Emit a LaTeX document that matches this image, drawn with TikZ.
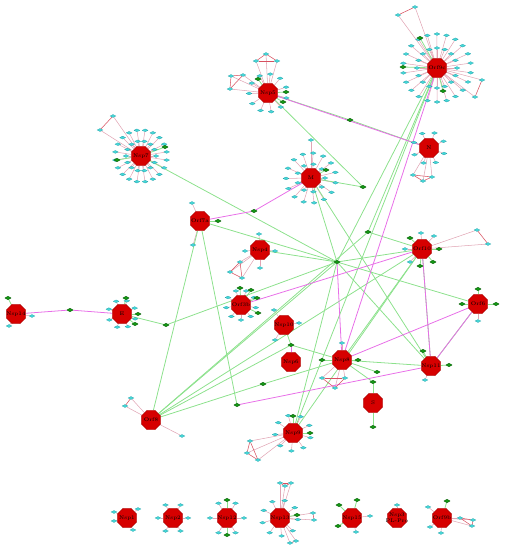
\documentclass[tikz,border=0pt]{standalone}
\usetikzlibrary{shapes.geometric, backgrounds, calc}

\definecolor{hubred}{RGB}{214,0,0}
\definecolor{hubline}{RGB}{160,0,0}
\definecolor{satcyan}{RGB}{70,215,215}
\definecolor{satline}{RGB}{20,150,160}
\definecolor{drugreen}{RGB}{20,150,20}
\definecolor{spokepink}{RGB}{225,165,180}
\definecolor{linkgreen}{RGB}{140,225,140}
\definecolor{linkpink}{RGB}{232,110,232}
\definecolor{trired}{RGB}{215,80,95}

\tikzset{
  hub/.style={regular polygon, regular polygon sides=8, fill=hubred, draw=hubline,
    line width=0.2pt, minimum size=0.42cm, inner sep=0pt},
  hublabel/.style={font=\fontsize{3}{3.4}\selectfont, align=center, inner sep=0pt},
  sat/.style={diamond, aspect=2, fill=satcyan, draw=satline, line width=0.1pt,
    minimum width=0.12cm, minimum height=0.06cm, inner sep=0pt},
  drug/.style={diamond, aspect=2, fill=drugreen, draw=green!30!black, line width=0.1pt,
    minimum width=0.13cm, minimum height=0.075cm, inner sep=0pt},
  spoke/.style={spokepink, line width=0.3pt},
  glink/.style={linkgreen, line width=0.45pt},
  mlink/.style={linkpink, line width=0.45pt},
  rlink/.style={trired, line width=0.3pt},
}

\begin{document}
\begin{tikzpicture}[x=0.02cm, y=-0.02cm, line cap=round, line join=round]
    \useasboundingbox (0,0) rectangle (504,550);

    % --- 1. hubs (proteins) ---
    \foreach \h/\x/\y/\lab in {
        orf9c/437/68/Orf9c, nsp5/268/93/Nsp5, nsp7/141/156/Nsp7, mprot/311/178/M,
        nprot/429/148/N, orf7a/200/221/Orf7a, nsp4/260/250/Nsp4, orf10/422/249/Orf10,
        orf3b/241/305/Orf3b, nsp10/284/325/Nsp10, nsp6/291/362/Nsp6, nsp8/342/360/Nsp8,
        nsp11/431/366/Nsp11, sprot/373/403/S, orf6/478/304/Orf6, nsp14/16/314/Nsp14,
        eprot/122/314/E, orf8/151/420/Orf8, nsp9/293/433/Nsp9,
        nsp1/127/518/Nsp1, nsp2/173/518/Nsp2, nsp12/227/518/Nsp12, nsp13/280/518/Nsp13,
        nsp15/352/518/Nsp15, nsp3/397/518/{Nsp3\\PL-Pro}, orf9b/442/518/Orf9b}
        \node[hub, label={[hublabel]center:\lab}] (\h) at (\x,\y) {};

    % --- 2. satellite rings (host proteins) ---
    \foreach \h/\n/\r/\a in {
        orf9c/16/20/0, orf9c/22/34/8, nsp5/11/19/15, nsp7/14/15/0, nsp7/20/26/9,
        mprot/9/14/0, mprot/15/25/11, nprot/8/16/20, orf3b/9/15/10, eprot/8/14/20,
        nsp9/9/18/15, nsp2/6/15/0, nsp12/6/17/0, nsp13/9/18/5} {
        \foreach \k in {1,...,\n} {
            \node[sat] (\h-\r-\k) at ($(\h)+(\a+\k*360/\n:\r)$) {};
            \begin{pgfonlayer}{background}
                \draw[spoke] (\h) -- (\h-\r-\k);
            \end{pgfonlayer}
        }
    }

    % single satellites
    \foreach \s/\x/\y/\h in {
        s1/398/15/orf9c, s2/415/7/orf9c, s3/482/80/orf9c, s4/475/97/orf9c,
        s5/266/54/nsp5, s6/256/61/nsp5, s7/277/61/nsp5, s8/231/76/nsp5, s9/243/75/nsp5, s10/230/89/nsp5,
        s11/113/116/nsp7, s12/100/130/nsp7, s13/311/140/mprot,
        s14/413/175/nprot, s15/423/181/nprot, s16/432/177/nprot,
        s17/192/203/orf7a, s18/193/245/orf7a,
        s19/259/234/nsp4, s20/245/251/nsp4, s21/275/251/nsp4, s22/260/268/nsp4,
        s23/240/262/nsp4, s24/230/272/nsp4, s25/242/278/nsp4,
        s26/421/233/orf10, s27/434/236/orf10, s28/405/249/orf10, s29/410/262/orf10,
        s30/477/230/orf10, s31/488/244/orf10,
        s32/274/310/nsp10, s33/299/323/nsp10, s34/275/340/nsp10,
        s35/342/343/nsp8, s36/322/378/nsp8, s37/335/388/nsp8, s38/345/378/nsp8,
        s39/425/380/nsp11, s40/478/321/orf6, s41/32/316/nsp14, s42/9/326/nsp14,
        s43/131/398/orf8, s44/125/406/orf8, s45/182/436/orf8,
        s46/250/441/nsp9, s47/247/453/nsp9, s48/258/460/nsp9,
        b1/114/512/nsp1, b2/114/521/nsp1, b3/138/509/nsp1, b4/133/530/nsp1,
        t1/280/483/nsp13, t2/285/486/nsp13, t3/291/483/nsp13, t4/313/513/nsp13,
        t5/314/520/nsp13, t6/290/543/nsp13, t7/296/541/nsp13,
        u1/370/516/nsp15, u2/356/532/nsp15, v1/397/505/nsp3,
        w1/428/507/orf9b, w2/430/527/orf9b, w3/441/533/orf9b,
        w4/460/518/orf9b, w5/473/520/orf9b, w6/472/526/orf9b} {
        \node[sat] (\s) at (\x,\y) {};
        \begin{pgfonlayer}{background}
            \draw[spoke] (\h) -- (\s);
        \end{pgfonlayer}
    }

    % --- 3. drugs (green) ---
    \foreach \d/\x/\y in {
        d1/420/38, d2/403/67, d3/443/91, d4/258/79, d5/286/92, d6/283/102,
        d7/165/147, d8/117/160, d9/326/170, d10/218/221, d11/254/211, d12/350/120,
        d14/337/262, d15/363/187, d16/410/238, d17/439/249, d18/420/266, d19/433/262,
        d20/368/232, d21/240/288, d22/251/290, d23/257/298, d24/258/313, d25/291/345,
        d26/322/360, d27/358/360, d28/377/372, d30/449/365, d31/423/351, d32/373/382,
        d33/373/427, d34/478/289, d35/462/304, d36/496/304, d37/8/298, d38/70/310,
        d39/126/298, d40/138/314, d41/135/324, d42/166/325, d43/237/405, d44/293/416,
        d45/310/433, d47/263/384, d50/227/500, d51/227/535, d52/297/515,
        d53/339/505, d54/338/526, d55/357/500, d56/447/501}
        \node[drug] (\d) at (\x,\y) {};

    % --- 4. links ---
    \begin{pgfonlayer}{background}
        % drug to hub
        \foreach \a/\b in {
            orf9c/d1, orf9c/d2, orf9c/d3, nsp5/d4, nsp5/d5, nsp5/d6, nsp7/d7, nsp7/d8,
            mprot/d9, orf7a/d10, orf10/d16, orf10/d17, orf10/d18, orf10/d19,
            orf3b/d21, orf3b/d22, orf3b/d23, orf3b/d24, nsp8/d26, nsp8/d27, nsp8/d28,
            nsp11/d30, nsp11/d31, sprot/d32, sprot/d33, orf6/d34, orf6/d35, orf6/d36,
            nsp14/d37, eprot/d39, eprot/d40, eprot/d41, nsp9/d44, nsp9/d45,
            nsp12/d50, nsp12/d51, nsp13/d52, nsp15/d53, nsp15/d54, nsp15/d55, orf9b/d56}
            \draw[glink] (\a) -- (\b);

        % long green links
        \foreach \a/\b in {
            nsp7/d14, orf7a/d14, orf7a/orf8, orf7a/d43, nsp5/d12, d12/nprot, nsp5/d15,
            mprot/d15, mprot/d14, mprot/nsp11, orf9c/d14, orf9c/nsp9, orf9c/d20,
            d14/orf10, d14/orf6, d14/nsp4, d14/nsp11, orf8/d14, orf8/d20, orf8/orf10,
            orf8/d47, orf8/d25, d47/nsp8, nsp8/orf10, nsp8/nsp11, nsp8/d32,
            nsp9/d14, nsp9/orf10, nsp11/orf10, eprot/d42, d42/d14, nsp10/d25,
            d25/nsp8, d20/orf10, nsp11/orf6}
            \draw[glink] (\a) -- (\b);

        % pink links
        \foreach \a/\b in {
            nsp14/d38, d38/eprot, orf7a/d11, d11/mprot, nsp5/nprot, orf9c/nsp8,
            d14/nsp8, orf3b/orf10, orf10/nsp11, orf6/nsp11, orf6/nsp8, d43/nsp11,
            d25/nsp6}
            \draw[mlink] (\a) -- (\b);

        % host-host links
        \foreach \a/\b in {
            s1/s2, s3/s4, s5/s6, s5/s7, s6/s7, s8/s9, s9/s10, s8/s10, s11/s12,
            s14/s15, s15/s16, s14/s16, s23/s24, s24/s25, s23/s25, s30/s31,
            s36/s37, s37/s38, s36/s38, s43/s44, s46/s47, s47/s48, s46/s48,
            t1/t2, t2/t3, t1/t3, t4/t5, t6/t7, w4/w5, w5/w6, w4/w6}
            \draw[rlink] (\a) -- (\b);
    \end{pgfonlayer}

\end{tikzpicture}
\end{document}
